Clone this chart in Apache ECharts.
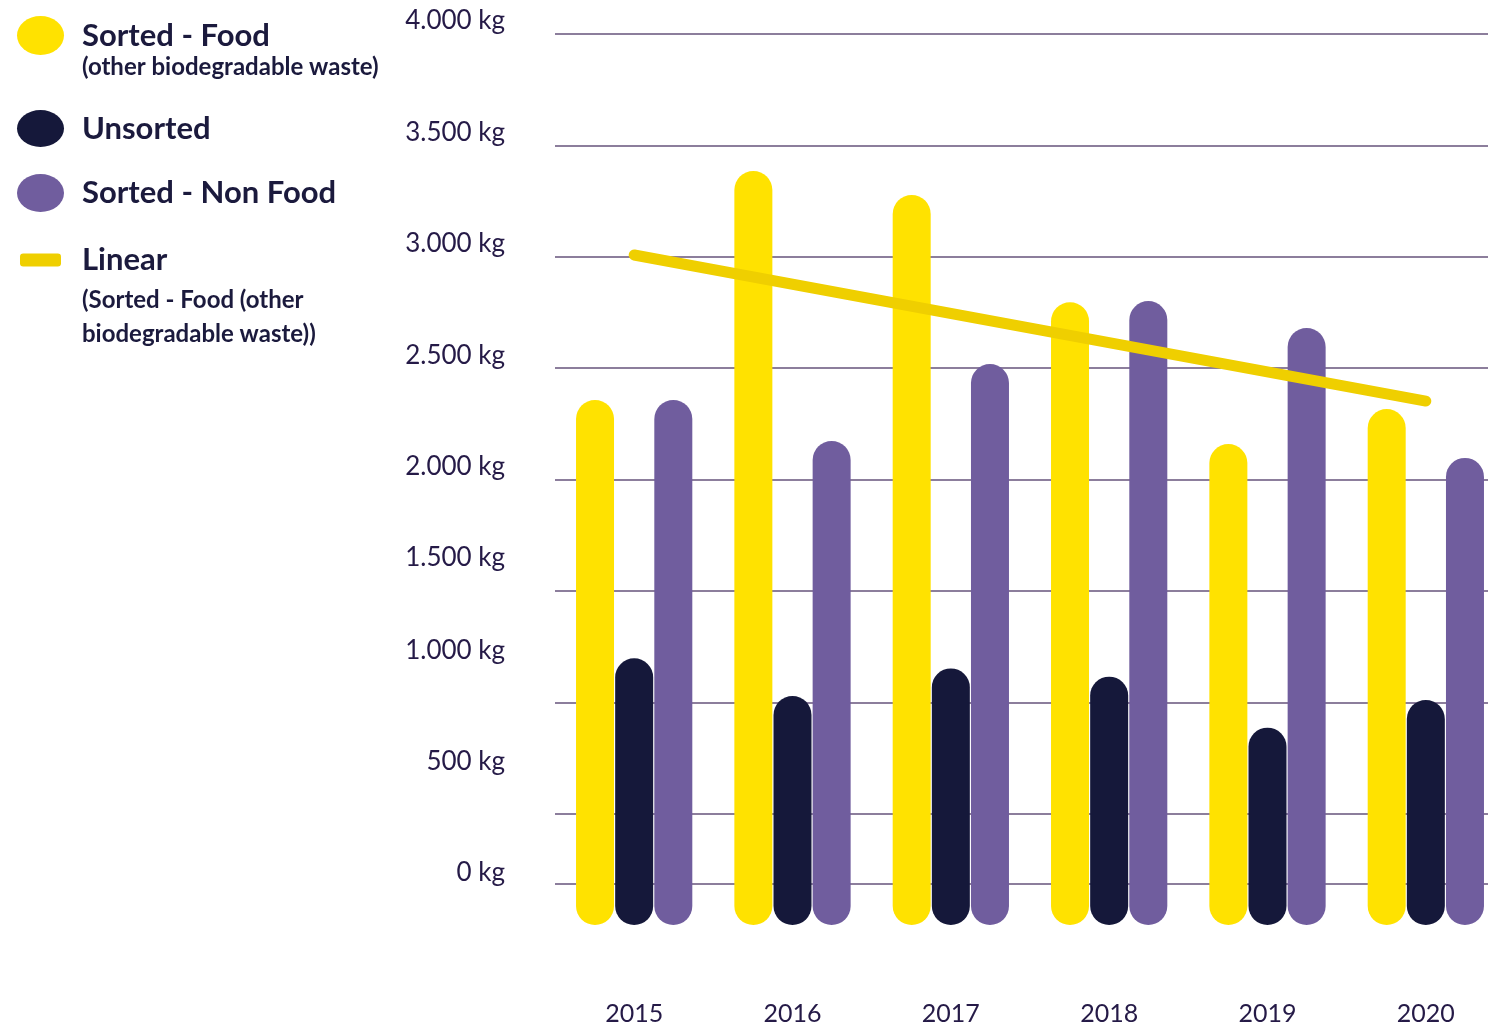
<!DOCTYPE html>
<html>
<head>
<meta charset="utf-8">
<title>Waste per year</title>
<script src="https://cdn.jsdelivr.net/npm/echarts@6/dist/echarts.min.js"></script>
<style>
  html, body { margin: 0; padding: 0; background: #fff; }
  #chart { width: 1488px; height: 1031px; }
</style>
</head>
<body>
<div id="chart"></div>
<script>
// data
const years = ['2015', '2016', '2017', '2018', '2019', '2020'];
const sortedFood = [2357, 3385, 3277, 2796, 2159, 2316];
const unsorted = [1197, 1028, 1152, 1115, 886, 1010];
const sortedNonFood = [2357, 2173, 2518, 2801, 2680, 2097];
// trend line, first and last point only
const linearFood = [['2015', 3008], ['2020', 2352]];
// the "0 kg" rule sits a bit above the real zero in the original
const baseRule = [184];

const textDark = '#1b1a3d';
const axisText = '#251a47';
const gridColor = '#8c7e9c';
const font = 'Lato';
const ellipse = 'path://M0,1A1,1 0 1,1 2,1A1,1 0 1,1 0,1Z';

// 4.000 style thousand separator
function fmt(v) {
  return String(v).replace(/\B(?=(\d{3})+(?!\d))/g, '.');
}

const chart = echarts.init(document.getElementById('chart'));

function legendItem(name, icon, top, left, w, h, padBottom, padLeft) {
  return {
    data: [{ name: name, icon: icon }],
    left: left,
    top: top,
    padding: 0,
    itemWidth: w,
    itemHeight: h,
    symbolKeepAspect: false,
    selectedMode: false,
    itemStyle: { borderWidth: 0 },
    textStyle: {
      fontFamily: font,
      fontWeight: 'bold',
      fontSize: 31,
      lineHeight: 36,
      color: textDark,
      padding: [0, 0, padBottom, padLeft]
    }
  };
}

const option = {
  backgroundColor: '#fff',
  animation: false,
  grid: { left: 555, top: 34, width: 950, height: 891, outerBoundsMode: 'none' },
  legend: [
    legendItem('Sorted - Food', ellipse, 13, 17, 47, 39, 9, 13),
    legendItem('Unsorted', ellipse, 109, 17, 47, 37, 3, 13),
    legendItem('Sorted - Non Food', ellipse, 169, 17, 47, 38, 12, 13),
    legendItem('Linear', 'roundRect', 238, 20, 41, 13, 8, 16)
  ],
  graphic: [
    {
      type: 'text', left: 82, top: 55,
      style: { text: '(other biodegradable waste)', font: 'bold 24px Lato', fill: textDark }
    },
    {
      type: 'text', left: 82, top: 283,
      style: {
        text: '(Sorted - Food (other\nbiodegradable waste))',
        font: 'bold 24px Lato', lineHeight: 34, fill: textDark
      }
    }
  ],
  xAxis: {
    type: 'category',
    data: years,
    axisLine: { show: false },
    axisTick: { show: false },
    axisLabel: { margin: 76, fontFamily: font, fontSize: 25, color: axisText }
  },
  yAxis: {
    type: 'value',
    min: 0,
    max: 4000,
    interval: 500,
    axisLine: { show: false },
    axisTick: { show: false },
    splitLine: { showMinLine: false, lineStyle: { color: gridColor, width: 2 } },
    axisLabel: {
      margin: 50,
      formatter: function (v) {
        const s = v >= 2000 ? 'a' : (v === 1500 ? 'b' : 'c');
        return '{v|' + fmt(v) + ' kg}\n{' + s + '| }';
      },
      rich: {
        v: { fontFamily: font, fontSize: 26, lineHeight: 28, color: axisText },
        a: { fontSize: 10, lineHeight: 26 },
        b: { fontSize: 10, lineHeight: 66 },
        c: { fontSize: 10, lineHeight: 104 }
      }
    }
  },
  series: [
    {
      name: 'Sorted - Food', type: 'bar', data: sortedFood,
      barWidth: 38, barGap: '3%',
      itemStyle: { color: '#ffe200', borderRadius: 19 },
      markLine: {
        silent: true, z: 1, symbol: 'none', label: { show: false },
        lineStyle: { color: gridColor, width: 2, type: 'solid' },
        data: baseRule.map(function (v) { return { yAxis: v }; })
      }
    },
    {
      name: 'Unsorted', type: 'bar', data: unsorted,
      barWidth: 38, barGap: '3%',
      itemStyle: { color: '#15183a', borderRadius: 19 }
    },
    {
      name: 'Sorted - Non Food', type: 'bar', data: sortedNonFood,
      barWidth: 38, barGap: '3%',
      itemStyle: { color: '#705d9e', borderRadius: 19 }
    },
    {
      name: 'Linear', type: 'line', data: linearFood,
      symbol: 'none', z: 5,
      itemStyle: { color: '#efcf00' },
      lineStyle: { color: '#efcf00', width: 11, cap: 'round' }
    }
  ]
};

chart.setOption(option);
</script>
</body>
</html>
